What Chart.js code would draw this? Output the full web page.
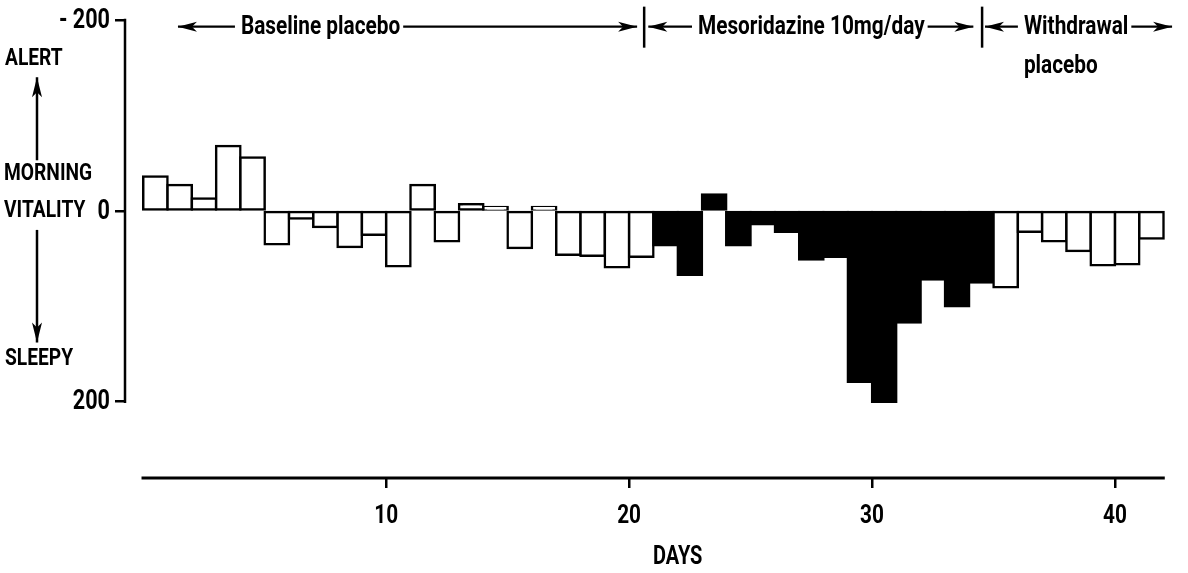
<!DOCTYPE html>
<html>
<head>
<meta charset="utf-8">
<script src="https://cdn.jsdelivr.net/npm/chart.js"></script>
<style>
body{margin:0;background:#fff;}
#wrap{width:1188px;height:573px;position:relative;}
</style>
</head>
<body>
<div id="wrap"><canvas id="myCanvas"></canvas></div>
<script>
// giorni 1..42, vitalita' mattutina (negativo = alert, positivo = sleepy)
var giorni = [1,2,3,4,5,6,7,8,9,10,11,12,13,14,15,16,17,18,19,20,21,
              22,23,24,25,26,27,28,29,30,31,32,33,34,35,
              36,37,38,39,40,41,42];
var vitalita = [-36,-27,-13,-68,-56,35,8,17,38,25,58,-27,32,-7,-4,39,-4,46,47,59,48,
                36,67,-17,36,14,22,51,48,179,200,117,72,100,75,
                80,22,32,42,57,56,29];

// fasi dello studio
var fasi = ['Baseline placebo', 'Mesoridazine 10mg/day', 'Withdrawal'];
var fasiRiga2 = ['', '', 'placebo'];
var inizioFase = [1, 22, 36];
var fineFase = [21, 35, 42];
var coloreFase = ['#ffffff', '#000000', '#ffffff'];
var divisori = [20.62, 34.53];
var frecciaDa = [1.43, 20.79, 34.65];
var frecciaA = [20.33, 34.17, 42.35];
var centroTesto = [7.3, 27.5, 38.4];

var tickY = [-200, 0, 200];
var tickX = [10, 20, 30, 40];

var font = "Roboto, 'DejaVu Sans', sans-serif";
var stretto = 0.8; // caratteri piu' stretti

function coloreGiorno(g){
    for(var i=0;i<fasi.length;i++){
        if(g>=inizioFase[i] && g<=fineFase[i]) return coloreFase[i];
    }
    return '#ffffff';
}

var punti = giorni.map(function(g,i){ return {x: g-0.5, y: vitalita[i]}; });

function scritta(ctx, testo, x, y, align){
    ctx.save();
    ctx.translate(x, y);
    ctx.scale(stretto, 1);
    ctx.textAlign = align;
    ctx.textBaseline = 'middle';
    ctx.fillText(testo, 0, 0);
    ctx.restore();
}

function freccia(ctx, xDa, xA, y){
    ctx.beginPath();
    ctx.moveTo(xDa, y);
    ctx.lineTo(xA, y);
    ctx.stroke();
    var dir = xA > xDa ? 1 : -1;
    ctx.beginPath();
    ctx.moveTo(xA, y);
    ctx.lineTo(xA - dir*19, y - 5);
    ctx.lineTo(xA - dir*14, y);
    ctx.lineTo(xA - dir*19, y + 5);
    ctx.closePath();
    ctx.fill();
}

function frecciaV(ctx, x, yDa, yA){
    ctx.beginPath();
    ctx.moveTo(x, yDa);
    ctx.lineTo(x, yA);
    ctx.stroke();
    var dir = yA > yDa ? 1 : -1;
    ctx.beginPath();
    ctx.moveTo(x, yA);
    ctx.lineTo(x - 5, yA - dir*20);
    ctx.lineTo(x, yA - dir*15);
    ctx.lineTo(x + 5, yA - dir*20);
    ctx.closePath();
    ctx.fill();
}

// assi disegnati a mano + scritte
var decorazioni = {
    id: 'decorazioni',
    afterDraw: function(chart){
        var ctx = chart.ctx;
        var xs = chart.scales.x, ys = chart.scales.y;
        var area = chart.chartArea;
        ctx.save();
        ctx.strokeStyle = '#000';
        ctx.fillStyle = '#000';
        ctx.lineCap = 'butt';

        // asse y solo da -200 a 200
        ctx.lineWidth = 2.5;
        ctx.beginPath();
        ctx.moveTo(area.left, ys.getPixelForValue(-200) - 1.25);
        ctx.lineTo(area.left, ys.getPixelForValue(200) + 1.25);
        ctx.stroke();

        // asse x staccato sotto
        ctx.lineWidth = 3;
        ctx.beginPath();
        ctx.moveTo(xs.getPixelForValue(-0.07), area.bottom);
        ctx.lineTo(xs.getPixelForValue(42.05), area.bottom);
        ctx.stroke();

        // etichette degli assi
        ctx.font = 'bold 27px ' + font;
        tickY.forEach(function(v){
            scritta(ctx, v < 0 ? '- ' + Math.abs(v) : '' + v, area.left - 15, ys.getPixelForValue(v) + 1, 'right');
        });
        ctx.font = 'bold 26px ' + font;
        tickX.forEach(function(v){
            scritta(ctx, '' + v, xs.getPixelForValue(v), area.bottom + 38, 'center');
        });
        ctx.font = 'bold 25px ' + font;
        scritta(ctx, 'DAYS', xs.getPixelForValue(22), area.bottom + 80, 'center');

        // scritte a sinistra
        ctx.font = 'bold 24px ' + font;
        scritta(ctx, 'ALERT', 5, ys.getPixelForValue(-159), 'left');
        scritta(ctx, 'MORNING', 4, ys.getPixelForValue(-39), 'left');
        scritta(ctx, 'VITALITY', 4, ys.getPixelForValue(0), 'left');
        scritta(ctx, 'SLEEPY', 5, ys.getPixelForValue(155), 'left');
        ctx.lineWidth = 2.5;
        frecciaV(ctx, 37, ys.getPixelForValue(-53), ys.getPixelForValue(-140));
        frecciaV(ctx, 37, ys.getPixelForValue(20), ys.getPixelForValue(138));

        // divisori delle fasi
        ctx.lineWidth = 2.5;
        divisori.forEach(function(d){
            var x = xs.getPixelForValue(d);
            ctx.beginPath();
            ctx.moveTo(x, ys.getPixelForValue(-214));
            ctx.lineTo(x, ys.getPixelForValue(-171));
            ctx.stroke();
        });

        // nomi delle fasi con frecce
        var yF = ys.getPixelForValue(-193);
        ctx.font = 'bold 26px ' + font;
        ctx.lineWidth = 2.2;
        for(var i=0;i<fasi.length;i++){
            var w = ctx.measureText(fasi[i]).width * stretto;
            var xc = xs.getPixelForValue(centroTesto[i]);
            var sx = xc - w/2, dx = xc + w/2;
            scritta(ctx, fasi[i], sx, yF + 1, 'left');
            if(fasiRiga2[i]) scritta(ctx, fasiRiga2[i], sx, ys.getPixelForValue(-151), 'left');
            freccia(ctx, sx - 6, xs.getPixelForValue(frecciaDa[i]), yF);
            freccia(ctx, dx + 3, xs.getPixelForValue(frecciaA[i]), yF);
        }
        ctx.restore();
    }
};

var myCanvas = document.getElementById('myCanvas').getContext('2d');
var chart = new Chart(myCanvas, {
    type: 'bar',
    data: {
        datasets: [{
            label: 'Morning vitality',
            data: punti,
            backgroundColor: function(c){ return coloreGiorno(giorni[c.dataIndex]); },
            borderColor: '#000',
            borderWidth: 2.5,
            borderSkipped: false,
            inflateAmount: 1.25,
            barPercentage: 1,
            categoryPercentage: 1
        }]
    },
    options: {
        responsive: true,
        maintainAspectRatio: false,
        animation: false,
        layout: { padding: { top: 20, left: 0, right: 22, bottom: 0 } },
        plugins: { legend: { display: false }, tooltip: { enabled: false } },
        scales: {
            x: {
                type: 'linear',
                offset: false,
                min: -0.75,
                max: 42.1,
                afterBuildTicks: function(s){ s.ticks = tickX.map(function(v){ return {value: v}; }); },
                afterFit: function(s){ s.height = 95; },
                border: { display: false },
                grid: { offset: false, drawOnChartArea: false, drawTicks: true, tickLength: 10, color: '#000', lineWidth: 2.5 },
                ticks: { display: false }
            },
            y: {
                reverse: true,
                min: -200,
                max: 280,
                afterBuildTicks: function(s){ s.ticks = tickY.map(function(v){ return {value: v}; }); },
                afterFit: function(s){ s.width = 125; },
                border: { display: false },
                grid: { drawOnChartArea: false, drawTicks: true, tickLength: 10, color: '#000', lineWidth: 2.5 },
                ticks: { display: false }
            }
        }
    },
    plugins: [decorazioni]
});
</script>
</body>
</html>
